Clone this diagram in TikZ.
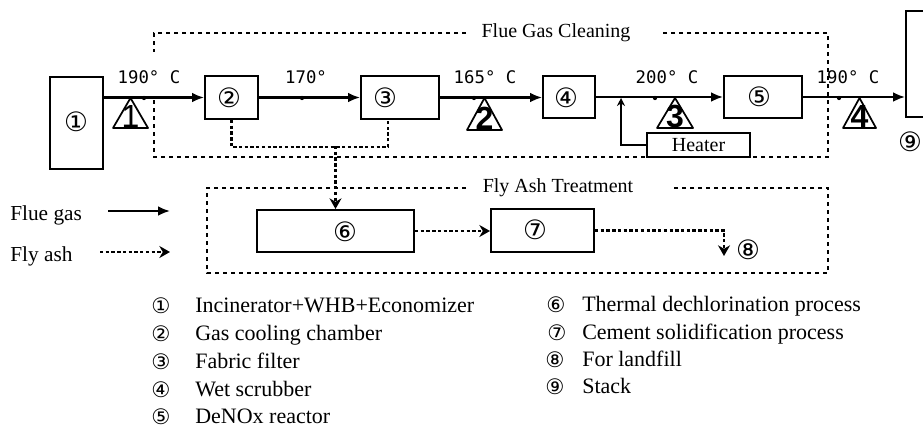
\documentclass[tikz,border=0pt]{standalone}
\usepackage{fontspec}
\setmainfont{Liberation Serif}
\newfontfamily\circfont{DejaVu Sans}
\newfontfamily\tempfont{DejaVu Sans Mono}
\newfontfamily\trifont{Liberation Sans}
\usetikzlibrary{arrows.meta,calc}
\newdimen\px \px=0.75pt
\newcommand\fsz[1]{\fontsize{#1}{#1}\selectfont}
\begin{document}
\begin{tikzpicture}[x=0.75pt,y=-0.75pt,
  box/.style={draw, line width=1.5pt, inner sep=0pt},
  gas/.style={line width=2.2pt, -{Latex[length=9pt,width=7.5pt]}},
  ash/.style={line width=2.2pt, dash pattern=on 2.5pt off 1.8pt},
  ashtip/.style={-{Stealth[length=8pt,width=9pt]}},
  dashbox/.style={line width=0.9pt, dash pattern=on 3pt off 3pt},
  tri/.style={line width=1.3pt, line join=round},
  temp/.style={font=\tempfont\fsz{13pt}, inner sep=0pt},
  circ/.style={font=\circfont\fsz{20pt}, inner sep=0pt},
  lcirc/.style={font=\circfont\fsz{16pt}, inner sep=0pt},
  ltext/.style={font=\fsz{16.5pt}, anchor=base west, inner sep=0pt},
  title/.style={font=\fsz{15pt}, inner sep=0pt},
  trinum/.style={font=\trifont\bfseries\fsz{24pt}, anchor=base, inner sep=0pt}
]
\useasboundingbox (0,0) rectangle (923,432);
\fill[white] (0,0) rectangle (923,432);
\clip (0,0) rectangle (923,432);

% dashed group boxes
\draw[dashbox] (466,33) -- (154,33) -- (154,52);
\draw[dashbox] (154,100) -- (154,157) -- (828,157) -- (828,33) -- (662,33);
\node[title] (fgc) at (556,33) {Flue Gas Cleaning};
\draw[dashbox] (466,188) -- (207,188) -- (207,273) -- (828,273) -- (828,188) -- (672,188);
\node[title] (fat) at (558,188) {Fly Ash Treatment};

% process boxes
\node[box, minimum width=53\px, minimum height=92\px] (b1) at (76.5,123) {};
\node[box, minimum width=53\px, minimum height=43\px] (b2) at (231.5,97.5) {};
\node[box, minimum width=78\px, minimum height=43\px] (b3) at (400,97.5) {};
\node[box, minimum width=52\px, minimum height=42\px] (b4) at (569,97) {};
\node[box, minimum width=78\px, minimum height=42\px] (b5) at (763,97) {};
\node[box, minimum width=54\px, minimum height=106\px] (b9) at (933,64) {};
\node[box, minimum width=157\px, minimum height=42\px] (b6) at (335.5,231) {};
\node[box, minimum width=103\px, minimum height=43\px] (b7) at (542.5,230.5) {};

% circled labels
\node[circ] (n1) at (76,122) {①};
\node[circ] (n2) at (229,98) {②};
\node[circ] (n3) at (385,98) {③};
\node[circ] (n4) at (566,98) {④};
\node[circ] (n5) at (759,97) {⑤};
\node[circ] (n6) at (345,232) {⑥};
\node[circ] (n7) at (535,230) {⑦};
\node[circ] (n8) at (748,250) {⑧};
\node[circ] (n9) at (910,142) {⑨};

% flue gas line
\draw[gas] (b1.east |- b2) -- (b2.west);
\draw[gas] (b2.east) -- (b3.west);
\draw[gas] (b3.east) -- (b3.east -| b4.west);
\draw[gas] (b4.east) -- (b4.east -| b5.west);
\draw[gas] (b5.east) -- (b5.east -| b9.west);

% heater
\node[box, line width=1.3pt, minimum width=103\px, minimum height=24\px, font=\fsz{15pt}] (heater) at (698.5,145) {Heater};
\coordinate (hj) at (621,98);
\draw[line width=1.2pt, -{Stealth[length=6pt,width=6pt]}] (heater.west) -| (hj);

% measuring points
\foreach \x in {144,302,474,655,839} \fill (\x,98) circle[radius=1.6pt];

% temperatures
\node[temp] (t1) at (149,77) {190° C};
\node[temp] (t2) at (306,77) {170°};
\node[temp] (t3) at (485,77) {165° C};
\node[temp] (t4) at (667,77) {200° C};
\node[temp] (t5) at (848,77) {190° C};

% triangles
\draw[tri] (113,128) -- (130.5,98) -- (148,128) -- cycle;
\node[trinum, font=\trifont\fsz{24pt}] (m1) at (130.5,127) {1};
\draw[tri] (467,130) -- (484.5,98) -- (502,130) -- cycle;
\node[trinum] (m2) at (484.5,129) {2};
\draw[tri] (657,128) -- (675,98) -- (693,128) -- cycle;
\node[trinum] (m3) at (675,127) {3};
\draw[tri] (843,128) -- (859.5,98) -- (876,128) -- cycle;
\node[trinum] (m4) at (859.5,127) {4};

% fly ash lines
\draw[ash] (b2.south) -- ++(0,27) -| ([xshift=-12\px]b3.south);
\coordinate (split) at (335.5,146);
\draw[ash, ashtip] (split) -- (b6.north);
\draw[ash, ashtip] (b6.east) -- (b6.east -| b7.west);
\coordinate (c8) at (724,256);
\draw[ash, ashtip] (b7.east) -| (c8);

% legend
\node[font=\fsz{16pt}, anchor=west, inner sep=0pt] (lg) at (10,215) {Flue gas};
\node[font=\fsz{16pt}, anchor=west, inner sep=0pt] (la) at (10,256) {Fly ash};
\coordinate (lg1) at (108,211); \coordinate (lg2) at (170,211);
\draw[gas] (lg1) -- (lg2);
\coordinate (la1) at (100,252); \coordinate (la2) at (170,252);
\draw[ash, ashtip] (la1) -- (la2);

% key list
\node[lcirc] (k1) at (161,306) {①}; \node[ltext] (k1t) at (195,312) {Incinerator+WHB+Economizer};
\node[lcirc] (k2) at (161,334) {②}; \node[ltext] (k2t) at (195,340) {Gas cooling chamber};
\node[lcirc] (k3) at (161,362) {③}; \node[ltext] (k3t) at (195,368) {Fabric filter};
\node[lcirc] (k4) at (161,390) {④}; \node[ltext] (k4t) at (195,396) {Wet scrubber};
\node[lcirc] (k5) at (161,417) {⑤}; \node[ltext] (k5t) at (195,423) {DeNOx reactor};
\node[lcirc] (k6) at (556,305) {⑥}; \node[ltext] (k6t) at (582,311) {Thermal dechlorination process};
\node[lcirc] (k7) at (557,333) {⑦}; \node[ltext] (k7t) at (582,339) {Cement solidification process};
\node[lcirc] (k8) at (555,360) {⑧}; \node[ltext] (k8t) at (582,366) {For landfill};
\node[lcirc] (k9) at (555,387) {⑨}; \node[ltext] (k9t) at (582,393) {Stack};
\end{tikzpicture}
\end{document}
